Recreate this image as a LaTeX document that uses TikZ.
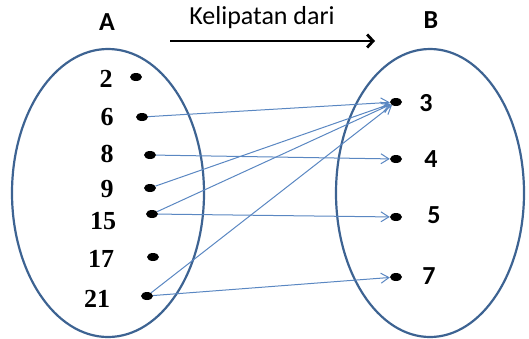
\documentclass[tikz,border=0pt]{standalone}
\usepackage{fontspec}
\setmainfont{Liberation Serif}
\newfontfamily\calfont{Carlito}
\usetikzlibrary{shapes.geometric,arrows.meta}
\definecolor{setblue}{HTML}{3D6392}
\definecolor{mapblue}{HTML}{5A87C2}

\begin{document}
\begin{tikzpicture}[x=1pt, y=-1pt,
	dot/.style = {ellipse, fill=black, minimum width=12pt, minimum height=8pt, inner sep=0pt},
	numA/.style = {font=\fontsize{26}{26}\selectfont\bfseries},
	numB/.style = {font=\calfont\fontsize{26}{26}\selectfont\bfseries},
	setname/.style = {font=\calfont\fontsize{26}{26}\selectfont\bfseries},
	map/.style = {mapblue, line width=1pt, -{Straight Barb[length=8pt,width=10pt]}}]
	\useasboundingbox (0,0) rectangle (529,338);
	% the two sets
	\draw[setblue, line width=2.2pt] (108,193) ellipse [x radius=96, y radius=144];
	\draw[setblue, line width=2.2pt] (430,193) ellipse [x radius=94, y radius=144];
	\node[setname] (A) at (107,22) {A};
	\node[setname] (B) at (431,20) {B};
	% relation name
	\node[font=\calfont\fontsize{26}{26}\selectfont] (rel) at (262,18) {Kelipatan dari};
	\coordinate (r1) at (170,41);
	\coordinate (r2) at (375,41);
	\draw[line width=2.8pt, -{Straight Barb[length=6pt,width=13pt]}] (r1) -- (r2);
	% elements of A
	\node[dot] (a2) at (136,77) {};
	\node[dot] (a6) at (142,117) {};
	\node[dot] (a8) at (150,155) {};
	\node[dot] (a9) at (150,188) {};
	\node[dot] (a15) at (152,214) {};
	\node[dot] (a17) at (153,257) {};
	\node[dot] (a21) at (147,296) {};
	\node[numA] at (106,79) {2};
	\node[numA] at (107,117) {6};
	\node[numA] at (107,154) {8};
	\node[numA] at (107,189) {9};
	\node[numA] at (103,221) {15};
	\node[numA] at (101,259) {17};
	\node[numA] at (97,299) {21};
	% elements of B
	\node[dot] (b3) at (396,102) {};
	\node[dot] (b4) at (396,159) {};
	\node[dot] (b5) at (396,217) {};
	\node[dot] (b7) at (396,277) {};
	\node[numB] at (426,103) {3};
	\node[numB] at (431,159) {4};
	\node[numB] at (434,215) {5};
	\node[numB] at (429,276) {7};
	% pairs
	\draw[map] (a6) -- (b3);
	\draw[map] (a8) -- (b4);
	\draw[map] (a9) -- (b3);
	\draw[map] (a15) -- (b3);
	\draw[map] (a15) -- (b5);
	\draw[map] (a21) -- (b3);
	\draw[map] (a21) -- (b7);
\end{tikzpicture}
\end{document}
